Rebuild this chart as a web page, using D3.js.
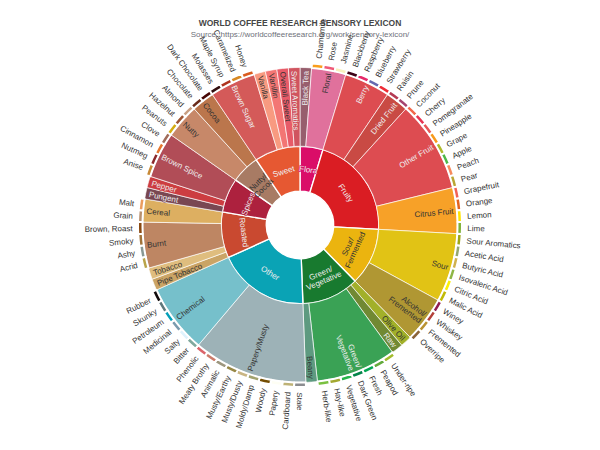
<!DOCTYPE html>
<html>
<head>
<meta charset="utf-8">
<script src="https://cdn.jsdelivr.net/npm/d3@7"></script>
<style>
body { margin: 0; background: #fff; }
svg { display: block; font-family: "Liberation Sans", Arial, sans-serif; }
</style>
</head>
<body>
<div id="chart"></div>
<script>
var width = 600;
var height = 450;

// level 1
var topNames = ['Flora', 'Fruity', 'Sour/\nFermented', 'Green/\nVegetative', 'Other', 'Roasted', 'Spices', 'Nutty/\nCocoa', 'Sweet'];
var topColors = ['#da0d68', '#da1d23', '#ebb40f', '#187a2f', '#0aa3b5', '#c94930', '#ad213e', '#a87b64', '#e65832'];

// level 2 (parent = index in topNames, value only for nodes without children)
var midNames = ['Black Tea', 'Floral', 'Berry', 'Dried Fruit', 'Other Fruit', 'Citrus Fruit', 'Sour', 'Alcohol/\nFremented',
    'Olive Oil', 'Raw', 'Green/\nVegetative', 'Beany', 'Papery/Musty', 'Chemical', 'Pipe Tobacco', 'Tobacco', 'Burnt', 'Cereal',
    'Pungent', 'Pepper', 'Brown Spice', 'Nutty', 'Cocoa', 'Brown Sugar', 'Vanilla', 'Vanillin', 'Overall Sweet', 'Sweet Aromatics'];
var midParents = [0, 0, 1, 1, 1, 1, 2, 2, 3, 3, 3, 3, 4, 4, 5, 5, 5, 5, 6, 6, 6, 7, 7, 8, 8, 8, 8, 8];
var midValues = [1, 0, 0, 0, 0, 0, 0, 0, 1, 1, 0, 1, 0, 0, 1, 1, 0, 0, 1, 1, 0, 0, 0, 0, 1, 1, 1, 1];
var midColors = ['#975e6d', '#e0719c', '#dd4c51', '#c94a44', '#dd4c51', '#f7a128', '#e1c315', '#b09733',
    '#a2b029', '#718933', '#3aa255', '#5e9a80', '#9db2b7', '#76c0cb', '#caa465', '#dfbd7e', '#be8663', '#ddaf61',
    '#794752', '#cc3d41', '#b14d57', '#c78869', '#bb764c', '#d45a59', '#f89a80', '#f37674', '#e75b68', '#d0545f'];

// level 3 (parent = index in midNames)
var leafNames = ['Chamomile', 'Rose', 'Jasmine',
    'Blackberry', 'Raspberry', 'Blueberry', 'Strawberry',
    'Raisin', 'Prune',
    'Coconut', 'Cherry', 'Pomegranate', 'Pineapple', 'Grape', 'Apple', 'Peach', 'Pear',
    'Grapefruit', 'Orange', 'Lemon', 'Lime',
    'Sour Aromatics', 'Acetic Acid', 'Butyric Acid', 'Isovaleric Acid', 'Citric Acid', 'Malic Acid',
    'Winey', 'Whiskey', 'Fremented', 'Overripe',
    'Under-ripe', 'Peapod', 'Fresh', 'Dark Green', 'Vegetative', 'Hay-like', 'Herb-like',
    'Stale', 'Cardboard', 'Papery', 'Woody', 'Moldy/Damp', 'Musty/Dusty', 'Musty/Earthy', 'Animalic', 'Meaty Brothy', 'Phenolic',
    'Bitter', 'Salty', 'Medicinal', 'Petroleum', 'Skunky', 'Rubber',
    'Acrid', 'Ashy', 'Smoky', 'Brown, Roast',
    'Grain', 'Malt',
    'Anise', 'Nutmeg', 'Cinnamon', 'Clove',
    'Peanuts', 'Hazelnut', 'Almond',
    'Chocolate', 'Dark Chocolate',
    'Molasses', 'Maple Syrup', 'Caramelized', 'Honey'];
var leafParents = [1, 1, 1,
    2, 2, 2, 2,
    3, 3,
    4, 4, 4, 4, 4, 4, 4, 4,
    5, 5, 5, 5,
    6, 6, 6, 6, 6, 6,
    7, 7, 7, 7,
    10, 10, 10, 10, 10, 10, 10,
    12, 12, 12, 12, 12, 12, 12, 12, 12, 12,
    13, 13, 13, 13, 13, 13,
    16, 16, 16, 16,
    17, 17,
    20, 20, 20, 20,
    21, 21, 21,
    22, 22,
    23, 23, 23, 23];
var leafValues = [1, 1, 1, 1, 1, 1, 1, 1, 1, 1, 1, 1, 1, 1, 1, 1, 1, 1, 1, 1, 1, 1, 1, 1, 1, 1, 1, 1, 1, 1, 1,
    1, 1, 1, 1, 1, 1, 1, 1, 1, 1, 1, 1, 1, 1, 1, 1, 1, 1, 1, 1, 1, 1, 1, 1, 1, 1, 1, 1, 1, 1, 1, 1, 1, 1, 1, 1,
    1, 1, 1, 1, 1, 1];
var leafColors = ['#f99e1c', '#ef5a78', '#f7f1bd',
    '#3e0317', '#e62969', '#6569b0', '#ef2d36',
    '#b53b54', '#a5446f',
    '#f2684b', '#e73451', '#e65656', '#f89a1c', '#aeb92c', '#4eb849', '#f68a5c', '#baa635',
    '#f26355', '#e2631e', '#fde404', '#7eb138',
    '#9ea718', '#94a76f', '#d0b24f', '#8eb646', '#faef07', '#c1ba07',
    '#8f1c53', '#b34039', '#ba9232', '#8b6439',
    '#a2bb2b', '#62aa3c', '#03a653', '#038549', '#28b44b', '#a3a830', '#7ac141',
    '#8b8c90', '#beb276', '#fefef4', '#744e03', '#a3a36f', '#c9b583', '#978847', '#9d977f', '#cc7b6a', '#db646a',
    '#80a89d', '#def2fd', '#7a9bae', '#039fb8', '#5e777b', '#120c0c',
    '#b9a449', '#899893', '#a1743b', '#894810',
    '#b7906f', '#eb9d5f',
    '#c78936', '#8c292c', '#e5762e', '#a16c5a',
    '#d4ad12', '#9d5433', '#c89f83',
    '#692a19', '#470604',
    '#310d0f', '#ae341f', '#d78823', '#da5c1f'];

// ring radii per depth, in percent of half the short side
var ringInner = [0, 15, 35, 70];
var ringOuter = [0, 35, 70, 72];

var k = 2 / 3; // pixel scale of the picture
var fontSize = 8;
var lineH = 8;

var rows = [{ id: 'root', parentId: null, value: 0 }];
topNames.forEach(function (n, i) {
    rows.push({ id: 't' + i, parentId: 'root', name: n, color: topColors[i], value: 0 });
});
midNames.forEach(function (n, i) {
    rows.push({ id: 'm' + i, parentId: 't' + midParents[i], name: n, color: midColors[i], value: midValues[i] });
});
leafNames.forEach(function (n, i) {
    rows.push({ id: 'l' + i, parentId: 'm' + leafParents[i], name: n, color: leafColors[i], value: leafValues[i] });
});

var root = d3.stratify()(rows).sum(function (d) { return d.value; });
d3.partition().size([2 * Math.PI, 1])(root);

var pct = d3.scaleLinear().domain([0, 100]).range([0, Math.min(width, height) / 2]);
var rIn = function (d) { return pct(ringInner[d.depth]); };
var rOut = function (d) { return pct(ringOuter[d.depth]); };

var arc = d3.arc()
    .startAngle(function (d) { return d.x0; })
    .endAngle(function (d) { return d.x1; })
    .innerRadius(rIn)
    .outerRadius(rOut);

var borderW = [0, 2 * k, 1 * k, 3 * k];

function lum(c) {
    var rgb = d3.rgb(c);
    return (0.299 * rgb.r + 0.587 * rgb.g + 0.114 * rgb.b) / 255;
}
function insideFill(c) {
    var l = lum(c);
    if (l > 0.5) return '#333';
    if (l > 0.2) return '#eee';
    return '#fff';
}

var svg = d3.select('#chart').append('svg')
    .attr('width', width)
    .attr('height', height);

svg.append('text')
    .attr('x', width / 2).attr('y', 22.5)
    .attr('text-anchor', 'middle').attr('dominant-baseline', 'central')
    .style('font-size', '8.5px').style('font-weight', 'bold').style('fill', '#464646')
    .text('WORLD COFFEE RESEARCH SENSORY LEXICON');
svg.append('text')
    .attr('x', width / 2).attr('y', 34.5)
    .attr('text-anchor', 'middle').attr('dominant-baseline', 'central')
    .style('font-size', '8px').style('fill', '#6E7079')
    .text('Source: https://worldcoffeeresearch.org/work/sensory-lexicon/');

var g = svg.append('g').attr('transform', 'translate(' + width / 2 + ',' + height / 2 + ')');

var nodes = root.descendants().filter(function (d) { return d.depth > 0; });

g.selectAll('path')
    .data(nodes)
    .enter()
    .append('path')
    .attr('d', arc)
    .style('fill', function (d) { return d.data.color; })
    .style('stroke', '#fff')
    .style('stroke-width', function (d) { return borderW[d.depth]; })
    .style('stroke-linejoin', 'round');

// labels
nodes.forEach(function (d) {
    var theta = (d.x0 + d.x1) / 2 - Math.PI / 2;
    var left = theta > Math.PI / 2;
    var r, anchor, rot, fill;
    if (d.depth === 1) {
        r = (rIn(d) + rOut(d)) / 2;
        anchor = 'middle';
        rot = theta * 180 / Math.PI - 90;
        if (rot > 90) rot -= 180;
        else if (rot < -90) rot += 180;
        fill = insideFill(d.data.color);
    } else if (d.depth === 2) {
        r = rOut(d) - 5 * k;
        anchor = left ? 'start' : 'end';
        rot = theta * 180 / Math.PI + (left ? 180 : 0);
        fill = insideFill(d.data.color);
    } else {
        r = rOut(d) + 5 * k + 3 * k;
        anchor = left ? 'end' : 'start';
        rot = theta * 180 / Math.PI + (left ? 180 : 0);
        fill = '#333';
    }
    var x = r * Math.cos(theta);
    var y = r * Math.sin(theta);
    var lines = d.data.name.split('\n');
    var t = g.append('text')
        .attr('transform', 'translate(' + x + ',' + y + ') rotate(' + rot + ')')
        .attr('text-anchor', anchor)
        .attr('dominant-baseline', 'central')
        .style('font-size', fontSize + 'px')
        .style('fill', fill);
    if (d.depth < 3 && fill !== '#333') {
        t.style('stroke', d.data.color).style('stroke-width', 2 * k).style('paint-order', 'stroke');
    }
    lines.forEach(function (line, i) {
        t.append('tspan')
            .attr('x', 0)
            .attr('y', (i - (lines.length - 1) / 2) * lineH)
            .text(line);
    });
});
</script>
</body>
</html>
